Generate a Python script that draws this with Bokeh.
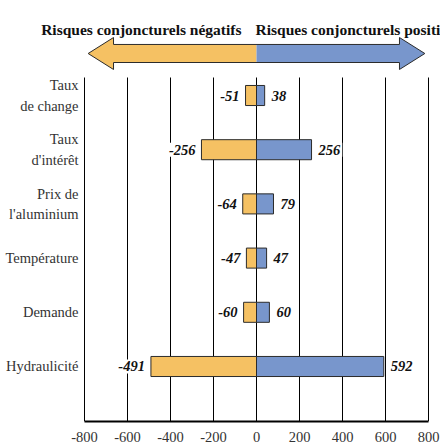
from bokeh.plotting import figure
from bokeh.models import Range1d, FixedTicker, Label
from bokeh.embed import file_html
from bokeh.resources import INLINE
from bokeh.core.properties import value

# ---- data ----
categories = ["Taux\nde change", "Taux\nd'intérêt", "Prix de\nl'aluminium",
              "Température", "Demande", "Hydraulicité"]
negative = [-51, -256, -64, -47, -60, -491]
positive = [38, 256, 79, 47, 60, 592]
x_ticks = [-800, -600, -400, -200, 0, 200, 400, 600, 800]
left_title = "Risques conjoncturels négatifs"
right_title = "Risques conjoncturels positifs"

# ---- style ----
ORANGE = "#F5C163"
BLUE = "#7896CC"
EDGE = "#2b2b2b"
TXT = "#333333"
FONT = "Liberation Sans Narrow"

W, H = 440, 444
FRAME_BOTTOM_PX = 421          # position of the x axis line in the canvas
PLOT_LEFT_PX, PLOT_RIGHT_PX = 84, 428
k = (PLOT_RIGHT_PX - PLOT_LEFT_PX) / (x_ticks[-1] - x_ticks[0])   # px per unit
x_start = x_ticks[0] - PLOT_LEFT_PX / k
x_end = x_ticks[-1] + (W - PLOT_RIGHT_PX) / k

Y_TOP = -0.332
Y_BOT = 6.015
pos_idx = list(range(len(categories)))

p = figure(width=W, height=H, output_backend="svg", toolbar_location=None,
           x_range=Range1d(x_start, x_end), y_range=Range1d(Y_BOT, -1.753),
           min_border_left=0, min_border_right=0, min_border_top=0,
           min_border_bottom=H - FRAME_BOTTOM_PX)
p.outline_line_color = None
p.grid.visible = False
p.yaxis.visible = False
p.background_fill_color = "white"
p.border_fill_color = "white"

# vertical grid lines (first one doubles as the left axis line)
p.segment(x0=x_ticks, y0=[Y_TOP] * len(x_ticks), x1=x_ticks, y1=[Y_BOT] * len(x_ticks),
          line_color="black", line_width=1)

# bars
p.hbar(y=pos_idx, left=0, right=negative, height=0.37,
       fill_color=ORANGE, line_color=EDGE, line_width=1)
p.hbar(y=pos_idx, left=0, right=positive, height=0.37,
       fill_color=BLUE, line_color=EDGE, line_width=1)

# value labels (white boxes interrupt the grid lines, as in the original)
p.text(x=negative, y=pos_idx, text=[str(v) for v in negative],
       text_align="right", text_baseline="middle", x_offset=-4,
       text_font=value(FONT), text_font_style="bold italic",
       text_font_size="14.5px", text_color="#111111",
       background_fill_color="white", padding=2)
p.text(x=positive, y=pos_idx, text=[str(v) for v in positive],
       text_align="left", text_baseline="middle", x_offset=5,
       text_font=value(FONT), text_font_style="bold italic",
       text_font_size="14.5px", text_color="#111111",
       background_fill_color="white", padding=2)

# category labels (left of the axis line)
p.text(x=[x_ticks[0]] * len(categories), y=pos_idx, text=categories,
       text_align="right", text_baseline="middle", x_offset=-6,
       text_font=value(FONT), text_font_size="14.5px", text_color=TXT,
       text_line_height=1.3)

# double arrow above the chart
TIP = 783
HEAD = 665
yb_top, yb_bot = -0.942, -0.609
yh_top, yh_bot = -1.07, -0.48
yc = (yh_top + yh_bot) / 2
p.patch(x=[-TIP, -HEAD, -HEAD, 0, 0, -HEAD, -HEAD],
        y=[yc, yh_top, yb_top, yb_top, yb_bot, yb_bot, yh_bot],
        fill_color=ORANGE, line_color=None)
p.patch(x=[TIP, HEAD, HEAD, 0, 0, HEAD, HEAD],
        y=[yc, yh_top, yb_top, yb_top, yb_bot, yb_bot, yh_bot],
        fill_color=BLUE, line_color=None)
p.patch(x=[-TIP, -HEAD, -HEAD, HEAD, HEAD, TIP, HEAD, HEAD, -HEAD, -HEAD, -TIP],
        y=[yc, yh_top, yb_top, yb_top, yh_top, yc, yh_bot, yb_bot, yb_bot, yh_bot, yc],
        fill_color=None, line_color=EDGE, line_width=1)

# titles
p.add_layout(Label(x=0, y=-1.218, x_offset=-15, text=left_title, text_align="right",
                   text_baseline="alphabetic", text_font=FONT, text_font_style="bold",
                   text_font_size="15.5px", text_color="#111111"))
p.add_layout(Label(x=0, y=-1.218, x_offset=-1, text=right_title, text_align="left",
                   text_baseline="alphabetic", text_font=FONT, text_font_style="bold",
                   text_font_size="15.5px", text_color="#111111"))

# x axis
xa = p.xaxis[0]
xa.ticker = FixedTicker(ticks=x_ticks)
xa.bounds = (x_ticks[0], x_ticks[-1])
xa.major_label_overrides = {t: str(t) for t in x_ticks}
xa.axis_line_color = "black"
xa.axis_line_width = 2
xa.major_tick_line_color = None
xa.minor_tick_line_color = None
xa.major_label_standoff = 4
xa.major_label_text_font = FONT
xa.major_label_text_font_size = "14.5px"
xa.major_label_text_color = TXT

open("out.html", "w").write(file_html(p, INLINE))
